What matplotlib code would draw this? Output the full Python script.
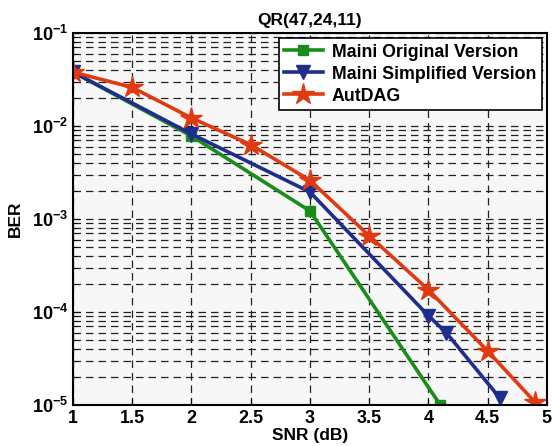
import matplotlib
matplotlib.use("Agg")
import matplotlib.pyplot as plt
from matplotlib.ticker import LogLocator, NullFormatter

plt.rcParams['font.family'] = ['Liberation Sans', 'DejaVu Sans']
plt.rcParams['font.weight'] = 'bold'

snr_orig = [1, 2, 3, 4.1]
ber_orig = [0.038, 0.0078, 0.00122, 1.0e-5]

snr_simp = [1, 2, 3, 4, 4.15, 4.6]
ber_simp = [0.038, 0.0082, 0.00195, 9.1e-5, 6.0e-5, 1.2e-5]

snr_aut = [1, 1.5, 2, 2.5, 3, 3.5, 4, 4.5, 4.9]
ber_aut = [0.038, 0.026, 0.0122, 0.0063, 0.0026, 0.00066, 1.73e-4, 3.8e-5, 1.07e-5]

labels = ['Maini Original Version', 'Maini Simplified Version', 'AutDAG']
x_ticks = [1, 1.5, 2, 2.5, 3, 3.5, 4, 4.5, 5]
x_tick_labels = ['1', '1.5', '2', '2.5', '3', '3.5', '4', '4.5', '5']

fig = plt.figure(figsize=(5.53, 4.46), dpi=100)
ax = fig.add_axes([0.132, 0.092, 0.857, 0.834])
ax.set_facecolor('#f7f7f7')

ax.semilogy(snr_orig, ber_orig, color='#1a8c1a', lw=2.6, marker='s', ms=7,
            mfc='#1a8c1a', mec='#1a8c1a', label=labels[0])
ax.semilogy(snr_simp, ber_simp, color='#1f2d8c', lw=2.6, marker='v', ms=10,
            mfc='#1f2d8c', mec='#1f2d8c', label=labels[1])
ax.semilogy(snr_aut, ber_aut, color='#e03a12', lw=2.6, marker='*', ms=16,
            mfc='#e03a12', mec='#e03a12', label=labels[2])

ax.set_xlim(1, 5)
ax.set_ylim(1e-5, 1e-1)
ax.set_xticks(x_ticks)
ax.set_xticklabels(x_tick_labels)
ax.yaxis.set_major_locator(LogLocator(base=10, numticks=10))
ax.yaxis.set_minor_locator(LogLocator(base=10, subs=range(2, 10), numticks=20))
ax.yaxis.set_minor_formatter(NullFormatter())

ax.grid(True, which='major', axis='both', color='#222222', ls=(0, (6, 4)), lw=0.9)
ax.grid(True, which='minor', axis='y', color='#222222', ls=(0, (6, 4)), lw=0.9)
ax.set_axisbelow(True)

ax.tick_params(axis='both', which='major', direction='in', labelsize=13, length=5)
ax.tick_params(axis='y', which='minor', direction='in', length=3)
for lab in ax.get_xticklabels() + ax.get_yticklabels():
    lab.set_fontweight('bold')

for sp in ax.spines.values():
    sp.set_linewidth(1.5)

ax.set_xlabel('SNR (dB)', fontsize=12.5, fontweight='bold', labelpad=1)
ax.set_ylabel('BER', fontsize=12.5, fontweight='bold', labelpad=6)
ax.set_title('QR(47,24,11)', fontsize=12.5, fontweight='bold', pad=6)

leg = ax.legend(loc='upper right', fontsize=12.8, frameon=True, fancybox=False,
                edgecolor='black', framealpha=1, handlelength=2.2,
                borderpad=0.3, labelspacing=0.28, borderaxespad=0.3,
                handletextpad=0.5)
leg.get_frame().set_linewidth(1.2)
for t in leg.get_texts():
    t.set_fontweight('bold')

fig.savefig('out.png', dpi=100, facecolor='white')
